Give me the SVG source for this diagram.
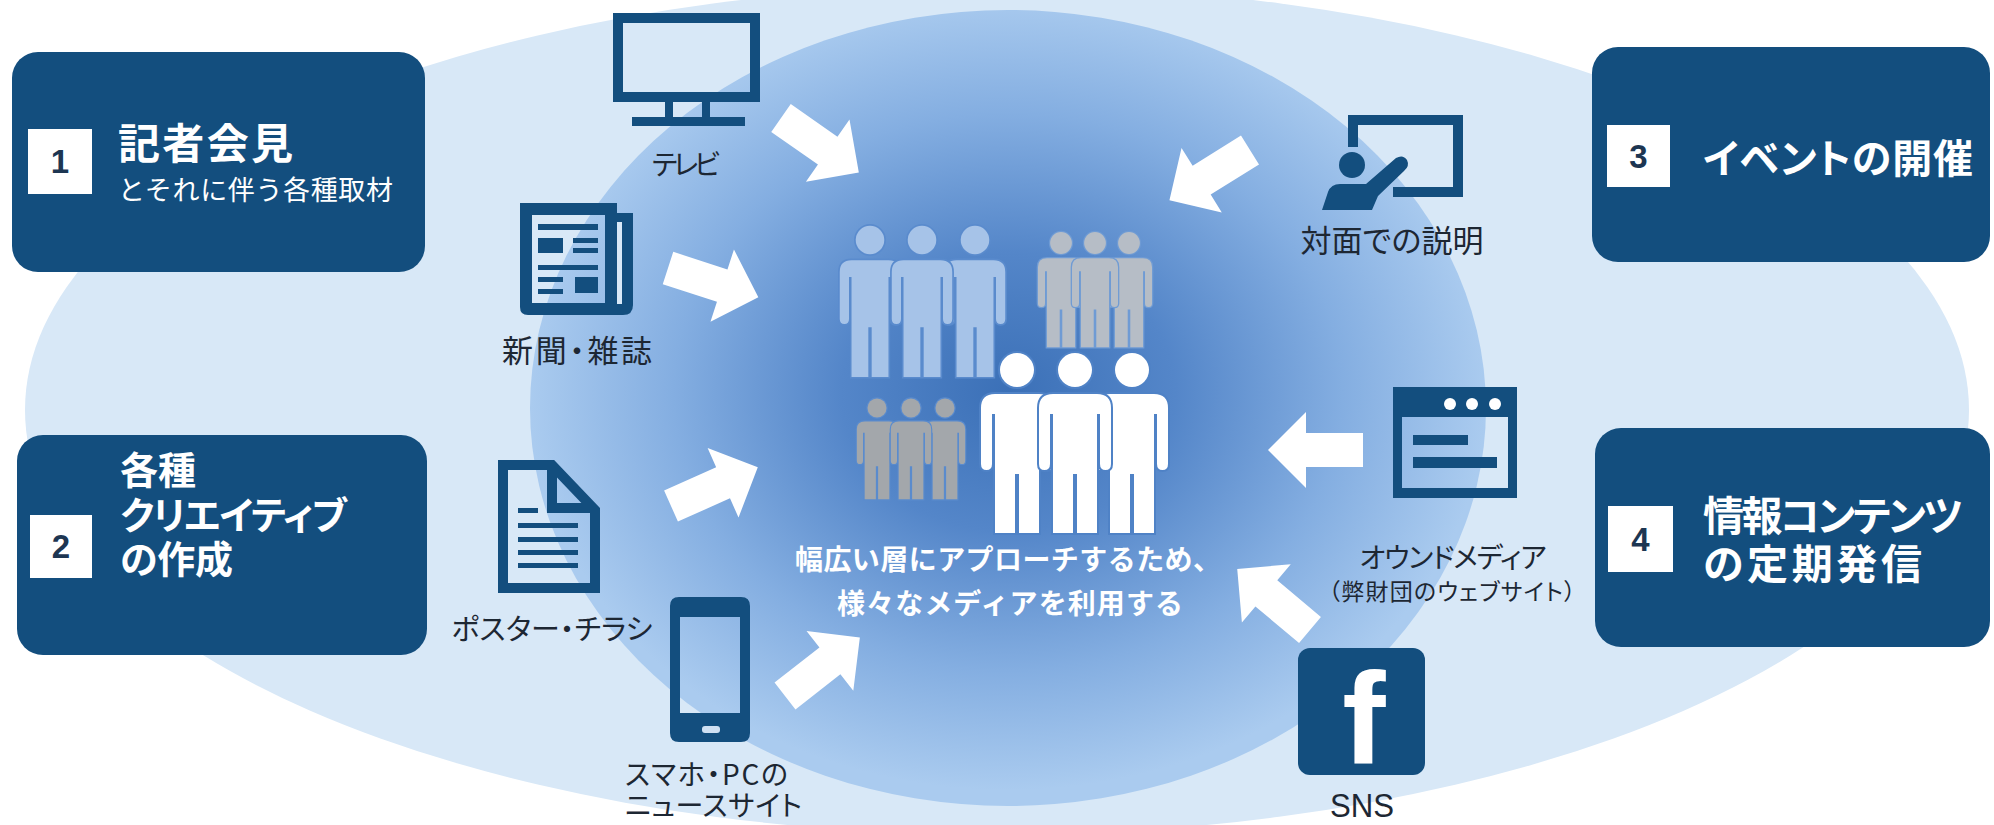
<svg xmlns="http://www.w3.org/2000/svg" xmlns:xlink="http://www.w3.org/1999/xlink" width="1994" height="825" viewBox="0 0 1994 825">
  <style>
    .box { fill: #134e7e; }
    .sq { fill: #ffffff; }
    .num { font-family: "Liberation Sans", Arial, sans-serif; font-weight: 700; font-size: 33px; fill: #1d3652; text-anchor: middle; }
    .ttl { font-family: "Noto Sans CJK JP", sans-serif; font-weight: 700; fill: #ffffff; font-feature-settings: "palt"; }
    .sub { font-family: "Noto Sans CJK JP", sans-serif; font-weight: 400; font-size: 27px; fill: #ffffff; }
    .lbl { font-family: "Noto Sans CJK JP", sans-serif; font-weight: 400; fill: #1d2733; text-anchor: middle; font-feature-settings: "palt"; }
    .lbl-start { text-anchor: start; }
    .ctr { font-family: "Noto Sans CJK JP", sans-serif; font-weight: 700; font-size: 28px; fill: #ffffff; text-anchor: middle; }
    .ink { fill: #134e7e; }
    .inkline { fill: none; stroke: #134e7e; stroke-width: 10; }
    .arrow { fill: #ffffff; }
  </style>
  <defs>
    <radialGradient id="core" cx="0.5" cy="0.48" r="0.5">
      <stop offset="0" stop-color="#3b70b7"/>
      <stop offset="0.35" stop-color="#5486c9"/>
      <stop offset="0.7" stop-color="#84aee1"/>
      <stop offset="1" stop-color="#aacbef"/>
    </radialGradient>
    <!-- block arrow pointing along +x, tail at the origin -->
    <polygon id="arw" points="0,-17 57,-17 57,-38 95,0 57,38 57,17 0,17"/>
    <!-- pictogram figure, head centre at the origin -->
    <g id="person">
      <circle cx="0" cy="0" r="17"/>
      <path d="M-22,24 H22 Q36,24 36,38 V94 Q36,100 30.5,100 Q25,100 25,94 V44 H22 V163 H2 V104 H-2 V163 H-22 V44 H-25 V94 Q-25,100 -30.5,100 Q-36,100 -36,94 V38 Q-36,24 -22,24 Z"/>
    </g>
  </defs>

  <!-- backdrop -->
  <rect x="0" y="0" width="1994" height="825" fill="#ffffff"/>
  <ellipse cx="997" cy="410" rx="972" ry="425" fill="#d8e8f7"/>
  <ellipse cx="1008" cy="408" rx="478" ry="398" fill="url(#core)"/>

  <!-- connectors -->
  <g id="connectors" class="arrow">
    <use xlink:href="#arw" transform="translate(781,118) rotate(35)"/>
    <use xlink:href="#arw" transform="translate(668,268) rotate(18)"/>
    <use xlink:href="#arw" transform="translate(671,506) rotate(-24)"/>
    <use xlink:href="#arw" transform="translate(785,696) rotate(-38)"/>
    <use xlink:href="#arw" transform="translate(1250,150) rotate(148)"/>
    <use xlink:href="#arw" transform="translate(1363,450) rotate(180)"/>
    <use xlink:href="#arw" transform="translate(1310,630) rotate(220)"/>
  </g>

  <!-- central audience -->
  <g id="audience">
    <g fill="#a6c3e8" stroke="#5a8bcd" stroke-width="4" paint-order="stroke">
      <use xlink:href="#person" transform="translate(870,240) scale(0.84)"/>
      <use xlink:href="#person" transform="translate(975,240) scale(0.84)"/>
      <use xlink:href="#person" transform="translate(922,240) scale(0.84)"/>
    </g>
    <g fill="#b6bdc6" stroke="#6f9bd4" stroke-width="4" paint-order="stroke">
      <use xlink:href="#person" transform="translate(1061,243) scale(0.64)"/>
      <use xlink:href="#person" transform="translate(1129,243) scale(0.64)"/>
      <use xlink:href="#person" transform="translate(1095,243) scale(0.64)"/>
    </g>
    <g fill="#a3a7ab" stroke="#5a8bcd" stroke-width="4" paint-order="stroke">
      <use xlink:href="#person" transform="translate(877,408) scale(0.56)"/>
      <use xlink:href="#person" transform="translate(945,408) scale(0.56)"/>
      <use xlink:href="#person" transform="translate(911,408) scale(0.56)"/>
    </g>
    <g fill="#ffffff" stroke="#4f82c6" stroke-width="4" paint-order="stroke">
      <use xlink:href="#person" transform="translate(1017,370)"/>
      <use xlink:href="#person" transform="translate(1132,370)"/>
      <use xlink:href="#person" transform="translate(1075,370)"/>
    </g>
    <text class="ctr" x="1008" y="570" textLength="426">幅広い層にアプローチするため、</text>
    <text class="ctr" x="1010" y="614" textLength="346">様々なメディアを利用する</text>
  </g>

  <!-- media: TV -->
  <g id="tv">
    <rect class="inkline" x="618" y="18" width="137" height="79"/>
    <rect class="ink" x="665" y="102" width="8" height="16"/>
    <rect class="ink" x="702" y="102" width="8" height="16"/>
    <rect class="ink" x="632" y="117" width="113" height="9"/>
    <text class="lbl" x="686" y="175" font-size="28" textLength="68">テレビ</text>
  </g>

  <!-- media: newspaper / magazine -->
  <g id="newspaper">
    <path class="ink" fill-rule="evenodd" d="M520,203 H617 V315 H528 Q520,315 520,307 Z M532,215 V303 H605 V215 Z"/>
    <path class="ink" d="M612,213 H633 V305 Q633,315 623,315 H612 Z"/>
    <rect x="617" y="222" width="5" height="82" fill="#d8e8f7"/>
    <rect class="ink" x="538" y="224" width="60" height="6"/>
    <rect class="ink" x="538" y="238" width="25" height="15"/>
    <rect class="ink" x="573" y="238" width="25" height="5"/>
    <rect class="ink" x="573" y="248" width="25" height="5"/>
    <rect class="ink" x="538" y="265" width="60" height="5"/>
    <rect class="ink" x="538" y="277" width="25" height="5"/>
    <rect class="ink" x="538" y="289" width="25" height="5"/>
    <rect class="ink" x="575" y="277" width="23" height="16"/>
    <text class="lbl" x="577" y="362" font-size="31" textLength="150">新聞・雑誌</text>
  </g>

  <!-- media: poster / flyer -->
  <g id="poster">
    <path class="inkline" stroke-linejoin="miter" d="M503,465 H552 L595,510 V588 H503 Z"/>
    <path class="inkline" d="M552,465 V508 H595"/>
    <rect class="ink" x="518" y="508" width="20" height="5"/>
    <rect class="ink" x="518" y="523" width="60" height="5"/>
    <rect class="ink" x="518" y="537" width="60" height="5"/>
    <rect class="ink" x="518" y="550" width="60" height="5"/>
    <rect class="ink" x="518" y="563" width="60" height="5"/>
    <text class="lbl" x="552" y="640" font-size="29" textLength="201">ポスター・チラシ</text>
  </g>

  <!-- media: smartphone / PC news -->
  <g id="smartphone">
    <path class="ink" fill-rule="evenodd" d="M679,597 H741 Q750,597 750,606 V733 Q750,742 741,742 H679 Q670,742 670,733 V606 Q670,597 679,597 Z M680,617 V713 H740 V617 Z"/>
    <rect x="702" y="726" width="18" height="7" rx="3" fill="#cfe0f3"/>
    <text class="lbl lbl-start" x="625" y="785" font-size="28" textLength="163">スマホ・PCの</text>
    <text class="lbl lbl-start" x="625" y="816" font-size="28" textLength="177">ニュースサイト</text>
  </g>

  <!-- media: face-to-face -->
  <g id="presentation">
    <path class="inkline" d="M1353,147 V120 H1458 V192 H1393"/>
    <circle class="ink" cx="1352" cy="165" r="13"/>
    <path class="ink" d="M1322,210 L1328,192 Q1331,184 1340,184 L1366,184 L1396,158 Q1403,154 1407,160 Q1410,166 1404,171 L1378,196 L1372,210 Z"/>
    <text class="lbl" x="1392" y="252" font-size="31" textLength="183">対面での説明</text>
  </g>

  <!-- media: owned media -->
  <g id="owned-media">
    <path class="ink" fill-rule="evenodd" d="M1393,387 H1517 V498 H1393 Z M1402,417 V488 H1508 V417 Z"/>
    <circle cx="1450" cy="404" r="6" fill="#ffffff"/>
    <circle cx="1472" cy="404" r="6" fill="#ffffff"/>
    <circle cx="1495" cy="404" r="6" fill="#ffffff"/>
    <rect class="ink" x="1413" y="435" width="55" height="10"/>
    <rect class="ink" x="1413" y="457" width="84" height="11"/>
    <text class="lbl" x="1453" y="568" font-size="28" textLength="187">オウンドメディア</text>
    <text class="lbl" x="1452" y="600" font-size="23" textLength="247">（弊財団のウェブサイト）</text>
  </g>

  <!-- media: SNS -->
  <g id="sns">
    <rect class="ink" x="1298" y="648" width="127" height="127" rx="12"/>
    <text x="1364" y="763" font-family="Liberation Sans, Arial, sans-serif" font-weight="700" font-size="130" fill="#ffffff" text-anchor="middle">f</text>
    <text x="1362" y="817" font-family="Liberation Sans, Arial, sans-serif" font-size="33" fill="#1d2733" text-anchor="middle" textLength="64" lengthAdjust="spacingAndGlyphs">SNS</text>
  </g>

  <!-- activity 1 -->
  <g id="activity-1">
    <rect class="box" x="12" y="52" width="413" height="220" rx="26"/>
    <rect class="sq" x="28" y="129" width="64" height="65"/>
    <text class="num" x="60" y="173">1</text>
    <text class="ttl" x="118" y="159" font-size="42" textLength="175">記者会見</text>
    <text class="sub" x="118" y="200" textLength="275">とそれに伴う各種取材</text>
  </g>

  <!-- activity 2 -->
  <g id="activity-2">
    <rect class="box" x="17" y="435" width="410" height="220" rx="26"/>
    <rect class="sq" x="30" y="515" width="62" height="63"/>
    <text class="num" x="61" y="558">2</text>
    <text class="ttl" x="120" y="484" font-size="38">各種</text>
    <text class="ttl" x="120" y="529" font-size="38" textLength="227">クリエイティブ</text>
    <text class="ttl" x="120" y="573" font-size="38" textLength="113">の作成</text>
  </g>

  <!-- activity 3 -->
  <g id="activity-3">
    <rect class="box" x="1592" y="47" width="398" height="215" rx="26"/>
    <rect class="sq" x="1607" y="125" width="63" height="62"/>
    <text class="num" x="1638.5" y="168">3</text>
    <text class="ttl" x="1703" y="173" font-size="40" textLength="270">イベントの開催</text>
  </g>

  <!-- activity 4 -->
  <g id="activity-4">
    <rect class="box" x="1595" y="428" width="395" height="219" rx="26"/>
    <rect class="sq" x="1608" y="506" width="65" height="66"/>
    <text class="num" x="1640.5" y="551">4</text>
    <text class="ttl" x="1703" y="531" font-size="41" textLength="260">情報コンテンツ</text>
    <text class="ttl" x="1703" y="579" font-size="41" textLength="219">の定期発信</text>
  </g>
</svg>
